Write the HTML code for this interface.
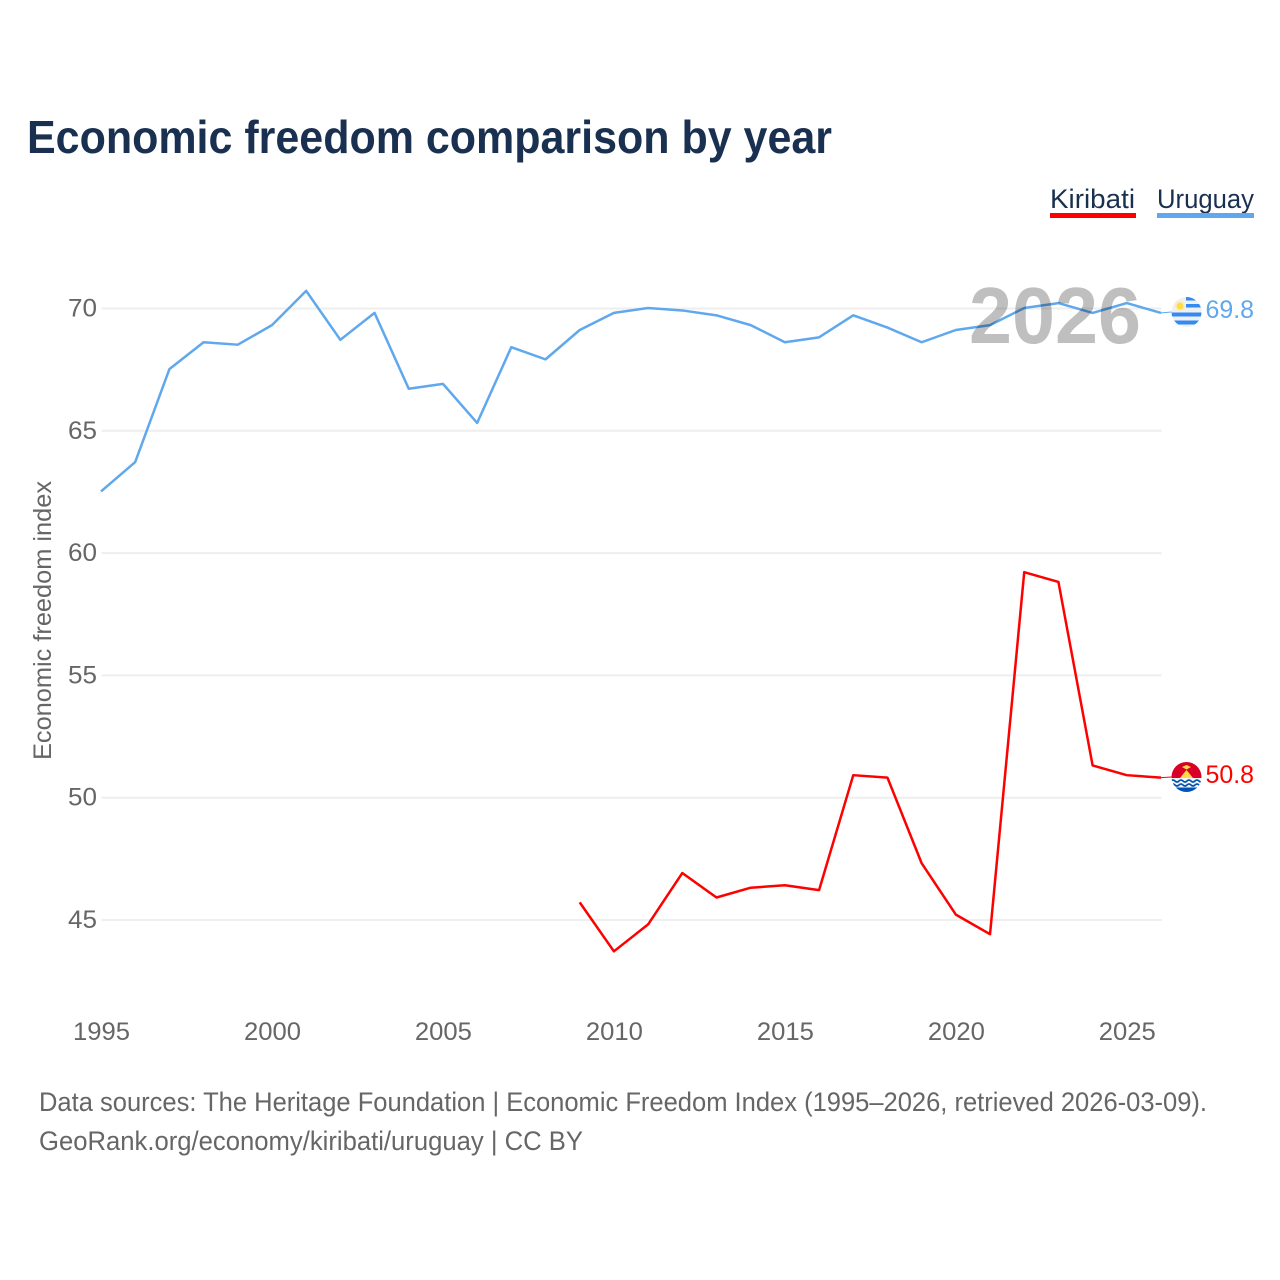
<!DOCTYPE html>
<html><head><meta charset="utf-8">
<style>
html,body{margin:0;padding:0;background:#fff}
svg{display:block}
text{font-family:"Liberation Sans",sans-serif}
</style></head>
<body>
<svg id="chart" width="1280" height="1280" viewBox="0 0 1280 1280" xmlns="http://www.w3.org/2000/svg">
<rect width="1280" height="1280" fill="#fff"/>
<text x="27" y="153" font-size="46" font-weight="700" fill="#1a3050" textLength="805" lengthAdjust="spacingAndGlyphs">Economic freedom comparison by year</text>
<g id="grid"></g>
<g id="ticks"></g>
<text transform="translate(51,760) rotate(-90)" font-size="25" fill="#666" textLength="279" lengthAdjust="spacingAndGlyphs">Economic freedom index</text>
<g id="series" transform="translate(-0.5,-0.5)"></g>
<text x="969" y="343" font-size="80" font-weight="700" fill="#000" fill-opacity="0.25" textLength="172" lengthAdjust="spacingAndGlyphs">2026</text>
<g>
<text x="1050" y="208" font-size="27" fill="#1a3050" textLength="85" lengthAdjust="spacingAndGlyphs">Kiribati</text>
<rect x="1050" y="213" width="86" height="5" fill="#ff0000"/>
</g>
<g>
<text x="1157" y="208" font-size="27" fill="#1a3050" textLength="97" lengthAdjust="spacingAndGlyphs">Uruguay</text>
<rect x="1157" y="213" width="97" height="5" fill="#5fa8ee"/>
</g>
<defs>
<clipPath id="c1"><circle cx="1186.500" cy="312" r="15"/></clipPath>
<clipPath id="c2"><circle cx="1186.500" cy="777" r="15"/></clipPath>
</defs>
<g clip-path="url(#c1)">
<rect x="1171" y="297" width="31" height="30" fill="#f0f0f0"/>
<rect x="1186" y="297" width="16" height="3.500" fill="#338af3"/>
<rect x="1186" y="304" width="16" height="3.500" fill="#338af3"/>
<rect x="1171" y="312.500" width="31" height="4" fill="#338af3"/>
<rect x="1171" y="320.500" width="31" height="4" fill="#338af3"/>
<circle cx="1180" cy="306" r="4.800" fill="#ffe9a8"/>
<circle cx="1180" cy="306" r="3.200" fill="#ffda44"/>
</g>
<g clip-path="url(#c2)">
<rect x="1171" y="762" width="31" height="16" fill="#d80027"/>
<polygon points="1180,778 1184,773 1186.500,770 1189,773 1193,778" fill="#ffda44"/>
<polygon points="1182,767 1186.500,765 1191,767 1186.500,769.500" fill="#ffda44"/>
<rect x="1171" y="778" width="31" height="15" fill="#f4f4f4"/>
<path d="M1171 781 q2 -2 4 0 t4 0 t4 0 t4 0 t4 0 t4 0 t4 0 t4 0" fill="none" stroke="#0052b4" stroke-width="1.600"/>
<path d="M1171 785 q2 -2 4 0 t4 0 t4 0 t4 0 t4 0 t4 0 t4 0 t4 0" fill="none" stroke="#0052b4" stroke-width="1.600"/>
<rect x="1171" y="787.500" width="31" height="5" fill="#0052b4"/>
</g>
<text x="1205.500" y="318" font-size="25" fill="#5fa8ee" textLength="48.500" lengthAdjust="spacingAndGlyphs">69.8</text>
<text x="1205.500" y="783" font-size="25" fill="#ff0000" textLength="48.500" lengthAdjust="spacingAndGlyphs">50.8</text>
<text x="39" y="1111" font-size="27" fill="#666" textLength="1168" lengthAdjust="spacingAndGlyphs">Data sources: The Heritage Foundation | Economic Freedom Index (1995–2026, retrieved 2026-03-09).</text>
<text x="39" y="1150" font-size="27" fill="#666" textLength="544" lengthAdjust="spacingAndGlyphs">GeoRank.org/economy/kiribati/uruguay | CC BY</text>
</svg>
<script>
const uruguayStartYear = 1995;
const uruguayValues = [62.5,63.7,67.5,68.6,68.5,69.3,70.7,68.7,69.8,66.7,66.9,65.3,68.4,67.9,69.1,69.8,70.0,69.9,69.7,69.3,68.6,68.8,69.7,69.2,68.6,69.1,69.3,70.0,70.2,69.8,70.2,69.8];
const kiribatiStartYear = 2009;
const kiribatiValues = [45.7,43.7,44.8,46.9,45.9,46.3,46.4,46.2,50.9,50.8,47.3,45.2,44.4,59.2,58.8,51.3,50.9,50.8];
const yTickValues = [45,50,55,60,65,70];
const xTickYears = [1995,2000,2005,2010,2015,2020,2025];

const NS = 'http://www.w3.org/2000/svg';
const xScale = y => 101.5 + (y - 1995) * (1161.5 - 101.5) / 31;
const yScale = v => 308.5 + (70 - v) * (920 - 308.5) / 25;
function make(tag, attrs, parent) {
  const el = document.createElementNS(NS, tag);
  for (const k in attrs) el.setAttribute(k, attrs[k]);
  parent.appendChild(el);
  return el;
}
const grid = document.getElementById('grid');
const ticks = document.getElementById('ticks');
const series = document.getElementById('series');
yTickValues.forEach(v => {
  const line = make('line', {x1: 101.5, x2: 1161.5, y1: yScale(v), y2: yScale(v), stroke: '#eeeeee', 'stroke-width': 2}, grid);
  
  
  const label = make('text', {x: 97, y: yScale(v) + 8, 'text-anchor': 'end', 'font-size': 25, fill: '#666', textLength: 29, lengthAdjust: 'spacingAndGlyphs'}, ticks);
  label.textContent = v;
  
  
});
xTickYears.forEach(y => {
  const label = make('text', {x: xScale(y), y: 1040, 'text-anchor': 'middle', 'font-size': 25, fill: '#666', textLength: 57, lengthAdjust: 'spacingAndGlyphs'}, ticks);
  label.textContent = y;
  
  
});
function pathFor(values, startYear) {
  return values.map((v, i) => (i ? 'L' : 'M') + xScale(startYear + i).toFixed(2) + ' ' + yScale(v).toFixed(2)).join(' ');
}
const uruguayLine = make('path', {d: pathFor(uruguayValues, uruguayStartYear), fill: 'none', stroke: '#5fa8ee', 'stroke-width': 2.5, 'stroke-linejoin': 'round'}, series);


const kiribatiLine = make('path', {d: pathFor(kiribatiValues, kiribatiStartYear), fill: 'none', stroke: '#ff0000', 'stroke-width': 2.5, 'stroke-linejoin': 'round'}, series);


const uruguayConnector = make('line', {x1: 1161.5, x2: 1172, y1: yScale(uruguayValues[uruguayValues.length - 1]), y2: 312.5, stroke: '#5fa8ee', 'stroke-width': 1}, series);


const kiribatiConnector = make('line', {x1: 1161.5, x2: 1172, y1: yScale(kiribatiValues[kiribatiValues.length - 1]), y2: 777.5, stroke: '#ff0000', 'stroke-width': 1}, series);


</script>
</body></html>
